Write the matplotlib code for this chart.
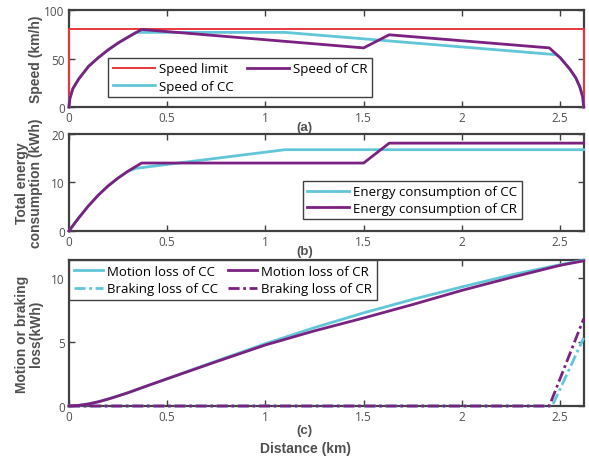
import matplotlib
matplotlib.use('Agg')
import matplotlib.pyplot as plt

# ── Data ──────────────────────────────────────────────────────────────────────
x_end = 2.62

# speed limit
lim_x = [0, 0, x_end, x_end]
lim_v = [0, 80, 80, 0]

# speed of CR
cr_v_x = [0, 0.005, 0.02, 0.05, 0.1, 0.15, 0.2, 0.25, 0.3, 0.37,
          1.5, 1.63, 2.445, 2.5, 2.55, 2.58, 2.6, 2.615, 2.62]
cr_v = [0, 9, 19, 29, 42, 51, 59, 66, 72, 80,
        61, 74.5, 61, 51, 39, 30, 21, 10.5, 0]

# speed of CC
cc_v_x = [0, 0.005, 0.02, 0.05, 0.1, 0.15, 0.2, 0.25, 0.3, 0.34,
          1.1, 2.48, 2.5, 2.55, 2.58, 2.6, 2.615, 2.62]
cc_v = [0, 9, 19, 29, 42, 51, 59, 66, 72, 77,
        77, 54, 51, 39, 30, 21, 10.5, 0]

# total energy consumption
cr_e_x = [0, 0.05, 0.1, 0.15, 0.2, 0.25, 0.3, 0.37, 1.5, 1.63, x_end]
cr_e = [0, 2.7, 5.2, 7.4, 9.3, 10.9, 12.3, 14.0, 14.0, 18.1, 18.1]
cc_e_x = [0, 0.05, 0.1, 0.15, 0.2, 0.25, 0.3, 0.34, 1.1, x_end]
cc_e = [0, 2.7, 5.2, 7.4, 9.3, 10.9, 12.3, 12.9, 16.75, 16.75]

# motion loss
loss_x = [0, 0.05, 0.1, 0.15, 0.2, 0.25, 0.3, 0.4, 0.5, 0.75, 1.0, 1.25,
          1.5, 1.75, 2.0, 2.25, 2.5, x_end]
cc_motion = [0, 0.05, 0.16, 0.33, 0.54, 0.78, 1.03, 1.58, 2.12, 3.5, 4.85,
             6.1, 7.25, 8.3, 9.27, 10.2, 11.0, 11.35]
cr_motion = [0, 0.05, 0.16, 0.33, 0.54, 0.78, 1.03, 1.58, 2.12, 3.45, 4.75,
             5.85, 6.85, 7.9, 9.0, 10.0, 10.95, 11.3]

# braking loss
cc_brake_x = [0, 2.46, x_end]
cc_brake = [0, 0, 5.3]
cr_brake_x = [0, 2.445, x_end]
cr_brake = [0, 0, 6.8]

# ── Style ─────────────────────────────────────────────────────────────────────
c_red = '#E8383D'
c_cc = '#62C6D9'
c_cr = '#7B2181'
c_axis = '#404040'
c_text = '#505050'
dashdot = (4, 1.3, 1, 1.3)

plt.rcParams.update({
    'font.family': ['Open Sans', 'DejaVu Sans'],
    'font.size': 8,
    'xtick.direction': 'in',
    'ytick.direction': 'in',
    'xtick.top': True,
    'ytick.right': True,
    'xtick.color': c_axis,
    'ytick.color': c_axis,
    'xtick.labelcolor': c_text,
    'ytick.labelcolor': c_text,
    'xtick.major.size': 4,
    'ytick.major.size': 4,
    'xtick.major.width': 1.0,
    'ytick.major.width': 1.0,
    'axes.edgecolor': c_axis,
    'axes.linewidth': 1.6,
})

fig = plt.figure(figsize=(5.89, 4.60), dpi=100)
ax1 = fig.add_axes([0.117, 0.765, 0.874, 0.211])
ax2 = fig.add_axes([0.117, 0.4957, 0.874, 0.211])
ax3 = fig.add_axes([0.117, 0.1152, 0.874, 0.317])

lab_font = dict(family='Liberation Sans', fontweight='bold', fontsize=10,
                color=c_text)
pan_font = dict(lab_font, fontsize=9.5)
leg_kw = dict(fancybox=False, edgecolor=c_axis, framealpha=1, fontsize=9.5,
              borderpad=0.35, labelspacing=0.35, handlelength=3.2,
              handletextpad=0.3, borderaxespad=0)
ln = dict(lw=2, zorder=3, clip_on=False)

# ── (a) Speed ─────────────────────────────────────────────────────────────────
l_lim, = ax1.plot(lim_x, lim_v, color=c_red, lw=1.4, zorder=3, clip_on=False,
                  label='Speed limit')
l_cc, = ax1.plot(cc_v_x, cc_v, color=c_cc, label='Speed of CC', **ln)
l_cr, = ax1.plot(cr_v_x, cr_v, color=c_cr, label='Speed of CR', **ln)
ax1.set_ylim(0, 100)
ax1.set_yticks([0, 50, 100])
ax1.set_ylabel('Speed (km/h)', **lab_font)
ax1.legend(handles=[l_lim, l_cc, l_cr], ncol=2, columnspacing=1.0,
           loc='lower left', bbox_to_anchor=(0.076, 0.1), **leg_kw)
ax1.text(0.458, -0.14, '(a)', transform=ax1.transAxes, ha='center', va='top',
         **pan_font)

# ── (b) Energy ────────────────────────────────────────────────────────────────
ax2.plot(cc_e_x, cc_e, color=c_cc, label='Energy consumption of CC', **ln)
ax2.plot(cr_e_x, cr_e, color=c_cr, label='Energy consumption of CR', **ln)
ax2.set_ylim(0, 20)
ax2.set_yticks([0, 10, 20])
ax2.set_ylabel('Total energy\nconsumption (kWh)', linespacing=1.0,
               **lab_font)
ax2.legend(loc='lower left', bbox_to_anchor=(0.454, 0.12),
           **dict(leg_kw, labelspacing=0.25))
ax2.text(0.458, -0.14, '(b)', transform=ax2.transAxes, ha='center', va='top',
         **pan_font)

# ── (c) Losses ────────────────────────────────────────────────────────────────
ax3.plot(loss_x, cc_motion, color=c_cc, label='Motion loss of CC', **ln)
ax3.plot(cc_brake_x, cc_brake, color=c_cc, dashes=dashdot,
         label='Braking loss of CC', **ln)
ax3.plot(loss_x, cr_motion, color=c_cr, label='Motion loss of CR', **ln)
ax3.plot(cr_brake_x, cr_brake, color=c_cr, dashes=dashdot,
         label='Braking loss of CR', **ln)
ax3.set_ylim(0, 11.35)
ax3.set_yticks([0, 5, 10])
ax3.set_ylabel('Motion or braking\nloss(kWh)', linespacing=1.0, **lab_font)
leg3 = ax3.legend(ncol=2, columnspacing=0.8, loc='upper left',
                  bbox_to_anchor=(0.0, 1.0), **dict(leg_kw, handlelength=2.2))
leg3.set_zorder(5)
ax3.text(0.458, -0.12, '(c)', transform=ax3.transAxes, ha='center', va='top',
         **pan_font)
ax3.set_xlabel('Distance (km)', **lab_font)
ax3.xaxis.set_label_coords(0.46, -0.24)

for ax in (ax1, ax2, ax3):
    ax.set_xlim(0, x_end)
    ax.set_xticks([0, 0.5, 1, 1.5, 2, 2.5])
    ax.set_xticklabels(['0', '0.5', '1', '1.5', '2', '2.5'])
    ax.tick_params(labelsize=8.5, pad=3)
    ax.yaxis.set_label_coords(-0.05, 0.5)

fig.savefig('out.png', dpi=100, facecolor='white')
